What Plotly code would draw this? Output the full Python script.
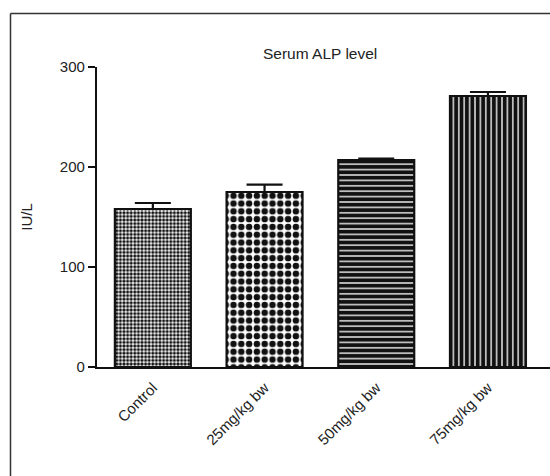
import plotly.graph_objects as go

categories = ["Control", "25mg/kg bw", "50mg/kg bw", "75mg/kg bw"]
alp_mean = [158, 175, 207, 271]
alp_sem = [6, 7.4, 1.3, 4]
chart_title = "Serum ALP level"
y_label = "IU/L"
y_ticks = [0, 100, 200, 300]

W, H = 550, 476
L, R, T, B = 97, 0, 67, 109
pw = W - L - R
ph = H - T - B

font_family = "Liberation Sans, Arial, sans-serif"

fig = go.Figure()
fig.add_trace(go.Bar(
    x=categories,
    y=alp_mean,
    width=0.68,
    marker=dict(
        color="white",
        line=dict(color="#111111", width=2.2),
        pattern=dict(
            shape=[".", ".", "-", "|"],
            size=[3.6, 7.8, 5.4, 5.4],
            solidity=[0.6, 0.55, 0.68, 0.68],
            fgcolor=["#111111", "#111111", "#111111", "#111111"],
            bgcolor=["white", "white", "#c4c4c4", "#c4c4c4"],
            fillmode="replace",
        ),
    ),
    error_y=dict(
        type="data",
        symmetric=False,
        array=alp_sem,
        arrayminus=[0, 0, 0, 0],
        color="#111111",
        thickness=2.2,
        width=18,
    ),
    showlegend=False,
))

cat_px = 111.7
x_hi = -0.5 + pw / cat_px

fx0 = (10.5 - L) / pw
fy_top = 1 + (T - 13.5) / ph
fy_bot = -B / ph

fig.update_layout(
    width=W, height=H,
    margin=dict(l=L, r=R, t=T, b=B, pad=0),
    paper_bgcolor="white",
    plot_bgcolor="white",
    font=dict(family=font_family, size=15, color="#222222"),
    xaxis=dict(
        range=[-0.5, x_hi],
        showline=True, linecolor="#111111", linewidth=2.2,
        ticks="", tickangle=-45,
        tickfont=dict(size=15, color="#222222"),
        ticklabelstandoff=4,
        showgrid=False, zeroline=False,
    ),
    yaxis=dict(
        range=[0, 300],
        tickvals=y_ticks,
        showline=True, linecolor="#111111", linewidth=2.2,
        ticks="outside", ticklen=7, tickwidth=2.2, tickcolor="#111111",
        tickfont=dict(size=15, color="#222222"),
        showgrid=False, zeroline=False,
        title=dict(text=y_label, font=dict(size=15, color="#222222"), standoff=24),
    ),
    annotations=[dict(
        text=chart_title, xref="paper", yref="paper",
        x=(320 - L) / pw, y=1 + (T - 53) / ph,
        xanchor="center", yanchor="middle", showarrow=False,
        font=dict(size=15.5, color="#222222"),
    )],
    shapes=[
        dict(type="line", xref="paper", yref="paper",
             x0=fx0, x1=fx0, y0=fy_top, y1=fy_bot,
             line=dict(color="#333333", width=1.5)),
        dict(type="line", xref="paper", yref="paper",
             x0=fx0, x1=1, y0=fy_top, y1=fy_top,
             line=dict(color="#333333", width=1.5)),
    ],
)

fig.write_html("out.html", config={"displayModeBar": False})
